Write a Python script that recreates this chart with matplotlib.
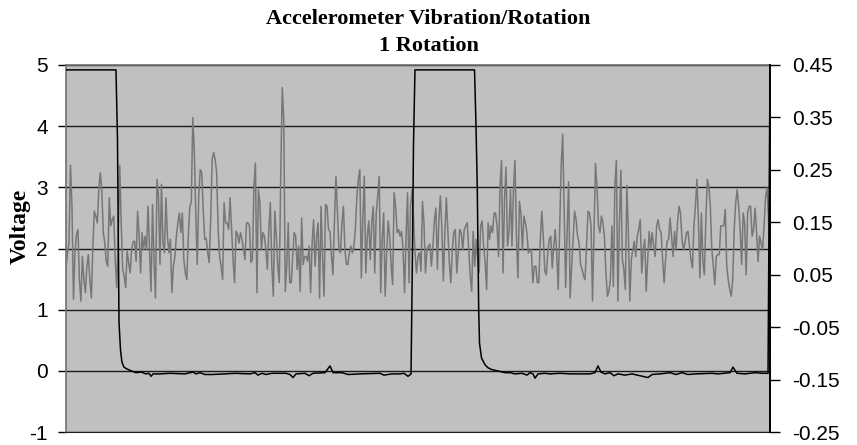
import numpy as np
import matplotlib
matplotlib.use("Agg")
import matplotlib.pyplot as plt

title_lines = ["Accelerometer Vibration/Rotation", "1 Rotation"]
y_label = "Voltage"
left_ticks = [-1, 0, 1, 2, 3, 4, 5]
right_ticks = [-0.25, -0.15, -0.05, 0.05, 0.15, 0.25, 0.35, 0.45]
right_tick_labels = ["-0.25", "-0.15", "-0.05", "0.05", "0.15", "0.25", "0.35", "0.45"]

# accelerometer trace (gray), read in left-axis units
accel = [
    1.68, 1.93, 2.09, 3.36, 2.69, 1.17, 1.93, 2.23, 2.31, 1.49, 1.14, 1.87, 1.49, 1.28, 1.71, 1.90,
    1.49, 1.19, 2.04, 2.61, 2.53, 2.42, 2.96, 3.24, 2.96, 2.26, 2.09, 1.79, 1.71, 2.83, 2.37, 2.47,
    2.53, 1.82, 1.36, 2.15, 3.36, 2.42, 1.66, 1.55, 1.36, 1.96, 1.77, 1.60, 1.98, 2.11, 2.12, 1.79,
    2.61, 2.23, 1.60, 2.26, 1.98, 2.20, 1.98, 2.69, 2.01, 1.30, 2.72, 1.82, 1.19, 3.13, 2.86, 1.74,
    3.05, 2.09, 1.93, 2.83, 2.20, 1.93, 2.15, 1.28, 1.71, 1.87, 2.20, 2.42, 2.58, 2.26,
    2.58, 1.82, 1.60, 1.49, 2.20, 2.69, 2.75, 4.14, 3.62, 2.58, 1.74, 2.86, 3.29, 3.24, 2.64, 2.15,
    2.17, 1.93, 1.77, 2.47, 3.46, 3.57, 3.46, 3.24, 2.31, 1.87, 1.71, 1.49, 2.75, 2.42, 2.42, 2.31,
    2.83, 2.31, 1.82, 1.44, 2.28, 2.23, 2.09, 2.26, 2.15, 1.98, 1.82, 2.42, 2.42, 2.37, 1.77, 1.82,
    3.02, 3.40, 1.28, 2.96, 2.75, 1.98, 2.26, 2.20, 1.98, 1.66, 2.31, 2.75, 1.71, 1.22, 2.61, 2.20,
    1.71, 1.44, 3.24, 4.63, 4.11, 1.30, 1.71, 2.42, 1.44, 1.44, 1.87, 2.26, 2.20, 1.66, 2.04, 1.30,
    2.50, 1.74, 1.87,
    1.87, 1.79, 2.04, 1.28, 2.09, 2.47, 1.71, 2.20, 2.42, 1.19, 2.69, 1.87, 1.22, 2.72, 2.69, 2.31,
    2.28, 1.87, 1.57, 2.47, 3.18, 2.58, 1.98, 1.93, 2.42, 2.69, 1.98, 1.74, 1.74, 1.93, 2.04, 1.93,
    2.04, 2.31, 2.83, 3.13, 3.29, 1.52, 2.47, 3.18, 1.60, 2.20, 2.45, 1.82, 2.42, 2.69, 1.60, 2.58,
    2.86, 3.18, 1.28, 2.15, 2.58, 1.22, 1.93, 2.45, 2.20, 1.71, 1.41, 2.91, 2.69, 2.26, 2.31, 2.20,
    2.28, 1.98, 1.28, 2.20, 2.91, 1.44, 2.69, 2.96, 2.47, 1.93, 1.60, 1.87,
    1.93, 1.63, 2.77, 2.42, 1.60, 1.98, 2.04, 2.07, 1.71, 2.04, 2.47, 2.66, 1.66, 2.47, 2.86, 2.34,
    1.47, 2.26, 2.83, 2.31, 1.77, 1.44, 1.98, 2.26, 2.31, 1.60, 1.93, 2.31, 2.26, 1.98, 2.31, 2.37,
    2.42, 1.98, 1.55, 1.30, 2.28, 1.71, 2.15, 1.82, 1.60, 2.37, 2.45, 2.04, 1.77, 1.33, 2.42, 2.15,
    2.37, 2.26, 2.58, 2.58, 2.37, 1.87, 3.02, 3.44, 1.60, 2.80, 3.33, 2.04, 2.26, 2.96, 2.04, 2.96,
    3.44, 2.20, 1.52, 2.77, 2.58, 1.98, 2.53, 2.42, 2.26, 1.93, 1.96, 1.98, 1.44, 1.71,
    1.71, 1.44, 1.44, 2.15, 2.61, 2.20, 1.63, 1.57, 1.93, 2.15, 2.20, 1.68, 2.04, 2.31, 1.93, 1.33,
    2.31, 3.35, 3.87, 2.58, 1.36, 2.31, 3.09, 1.19, 1.71, 2.17, 2.61, 2.47, 2.20, 2.09, 1.74, 1.66,
    1.55, 1.49, 2.04, 2.61, 2.58, 2.37, 1.14, 2.26, 3.39, 3.02, 2.37, 2.26, 2.53, 2.42, 2.20, 1.60,
    1.22, 1.30, 1.49, 2.37, 1.38, 3.05, 3.44, 1.14, 2.37, 3.28, 1.82, 1.66, 1.33, 3.03, 2.31, 1.14,
    1.82, 1.98, 2.12, 1.87, 2.20, 2.31, 2.47, 1.60, 1.98, 2.15, 1.30, 1.82, 2.28, 2.01, 2.26, 2.04,
    1.87, 2.37, 2.47, 2.31, 2.26, 1.82, 1.44, 1.82, 2.12, 2.15, 2.50, 2.20, 1.87, 2.28, 1.98, 2.42,
    2.69, 2.58, 2.15, 1.98, 2.09, 2.26, 2.28, 2.04, 1.82, 1.68, 2.37, 2.69, 3.13, 2.47, 1.52, 2.58,
    1.79, 1.57, 2.47, 3.13, 3.02, 2.69, 1.98, 1.71, 1.41, 1.87, 1.90, 1.90, 2.37, 2.37, 2.37, 2.64,
    1.71, 1.49, 1.33, 1.22, 1.49, 2.31, 2.75, 2.96, 2.69, 2.31, 1.74, 2.58, 2.42, 1.57, 2.58, 2.69,
    2.69, 2.20, 2.31, 2.66, 2.26, 1.79, 2.20, 2.09, 1.98, 2.37, 2.83, 2.99, 2.50, 1.71,
]

# rotation pulse (black): vertices as (% of record, volts)
rot_t = [0.0, 7.10, 7.31, 7.53, 7.74, 7.95, 8.24, 8.66, 9.23, 9.94, 10.65, 11.36, 11.79, 12.07,
         12.36, 13.35, 14.77, 16.90, 18.04, 18.47, 19.03, 19.74, 20.74, 22.59, 24.01, 26.14, 26.85,
         27.27, 27.84, 28.41, 29.26, 31.25, 31.82, 32.24, 32.67, 33.95, 34.52, 35.09, 36.79, 37.50,
         37.93, 39.20, 40.06, 41.76, 44.60, 45.17, 46.31, 47.44, 48.01, 48.58, 49.01, 49.22, 49.36,
         49.57, 58.03, 58.24, 58.42, 58.62, 58.74, 59.02, 59.52, 59.94, 60.51, 61.65, 62.36, 63.07,
         63.78, 64.77, 65.48, 65.91, 66.34, 66.62, 67.05, 68.04, 68.75, 70.17, 71.59, 74.43, 75.14,
         75.57, 75.99, 76.56, 77.27, 77.84, 78.41, 79.40, 80.40, 81.53, 82.67, 83.24, 84.38, 85.80,
         86.65, 87.50, 88.35, 89.35, 91.76, 92.61, 94.32, 94.74, 95.31, 96.45, 97.87, 98.86, 99.72,
         100.0]
rot_v = [4.92, 4.92, 3.80, 0.80, 0.34, 0.14, 0.06, 0.03, 0.00, -0.03, -0.02, -0.05, -0.04, -0.09,
         -0.05, -0.05, -0.04, -0.05, -0.02, -0.05, -0.03, -0.06, -0.06, -0.05, -0.04, -0.05, -0.03,
         -0.07, -0.04, -0.06, -0.04, -0.04, -0.06, -0.11, -0.05, -0.04, -0.08, -0.04, -0.03, 0.08,
         -0.03, -0.03, -0.06, -0.05, -0.04, -0.07, -0.05, -0.05, -0.04, -0.09, -0.05, 2.00, 3.70,
         4.92, 4.92, 4.00, 3.00, 1.00, 0.45, 0.21, 0.10, 0.05, 0.02, -0.01, -0.03, -0.03,
         -0.05, -0.04, -0.07, -0.03, -0.05, -0.12, -0.05, -0.04, -0.05, -0.04, -0.05, -0.05, -0.03,
         0.08, -0.02, -0.05, -0.03, -0.08, -0.05, -0.07, -0.05, -0.08, -0.11, -0.06, -0.05, -0.03,
         -0.06, -0.03, -0.06, -0.05, -0.04, -0.05, -0.03, 0.06, -0.04, -0.05, -0.03, -0.04, -0.04,
         4.92]

fig = plt.figure(figsize=(8.57, 4.45), dpi=100)
ax = fig.add_axes([66 / 857, 1 - 432 / 445, 704 / 857, 367 / 445])
ax.set_facecolor("#c0c0c0")

t = np.linspace(0, 100, len(accel))
ax.plot(t, accel, color="#777777", lw=1.1, zorder=3)
ax.plot(rot_t, rot_v, color="black", lw=1.1, zorder=4)

ax.set_xlim(0, 100)
ax.set_ylim(-1, 5)
ax.set_yticks(left_ticks)
ax.set_yticklabels([str(v) for v in left_ticks], family="Liberation Sans", fontsize=15)
ax.set_xticks([])
ax.yaxis.grid(True, color="#1a1a1a", lw=1.0)
ax.set_axisbelow(True)
ax.tick_params(axis="y", direction="out", length=6, width=1, color="black", pad=7)
for side in ("left", "top"):
    ax.spines[side].set_color("#707070")
    ax.spines[side].set_linewidth(1.2)
ax.spines["bottom"].set_color("#202020")
ax.spines["right"].set_visible(False)

ax2 = ax.twinx()
ax2.set_ylim(-0.25, 0.45)
ax2.set_yticks(right_ticks)
ax2.set_yticklabels(right_tick_labels, family="Liberation Sans", fontsize=15)
ax2.tick_params(axis="y", direction="out", length=7, width=1, color="black", pad=9)
ax2.spines["right"].set_color("black")
ax2.spines["right"].set_linewidth(1.4)
for side in ("left", "top", "bottom"):
    ax2.spines[side].set_visible(False)

fig.text(0.5, 1 - 19 / 445, title_lines[0], ha="center", va="center",
         family="Liberation Serif", fontweight="bold", fontsize=16)
fig.text(0.5, 1 - 46 / 445, title_lines[1], ha="center", va="center",
         family="Liberation Serif", fontweight="bold", fontsize=16)
fig.text(20 / 857, 1 - 226 / 445, y_label, rotation=90, ha="center", va="center",
         family="Liberation Serif", fontweight="bold", fontsize=17)

fig.savefig("out.png", dpi=100)
